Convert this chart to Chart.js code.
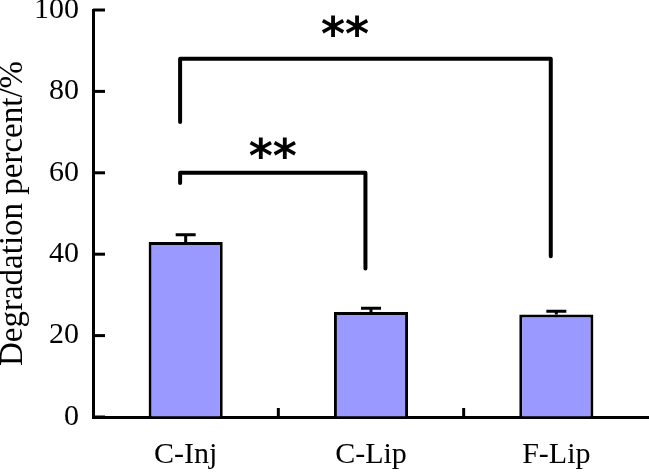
<!DOCTYPE html>
<html>
<head>
<meta charset="utf-8">
<script src="https://cdn.jsdelivr.net/npm/chart.js@4"></script>
<style>
  html, body { margin: 0; padding: 0; background: #fff; }
  #wrap { width: 649px; height: 473px; }
</style>
</head>
<body>
<div id="wrap"><canvas id="chart" width="649" height="473"></canvas></div>
<script>
// values
const categories = ['C-Inj', 'C-Lip', 'F-Lip'];
const degradation = [43.0, 25.8, 25.2];
const errors = [1.8, 0.9, 0.8];
const yTickValues = [0, 20, 40, 60, 80, 100];

// significance brackets (category index, value units)
const bracketFrom = [0, 0];
const bracketTo = [1, 2];
const bracketTop = [60, 88];
const bracketLeftEnd = [57.5, 72.5];
const bracketRightEnd = [36.5, 39.5];
const starText = ['**', '**'];
const starX = [0.47, 0.86];
const starY = [66, 96];

const serif = "'Liberation Serif', 'Times New Roman', serif";

const decorations = {
  id: 'decorations',
  afterDatasetsDraw(chart) {
    const { ctx, chartArea } = chart;
    const x = chart.scales.x;
    const y = chart.scales.y;
    const shift = -0.03;
    ctx.save();
    ctx.strokeStyle = '#000';
    ctx.fillStyle = '#000';

    // error bars (upper only)
    ctx.lineWidth = 3;
    ctx.lineCap = 'butt';
    degradation.forEach((v, i) => {
      const cx = x.getPixelForValue(i);
      const y0 = y.getPixelForValue(v);
      const y1 = y.getPixelForValue(v + errors[i]);
      ctx.beginPath();
      ctx.moveTo(cx, y0);
      ctx.lineTo(cx, y1);
      ctx.moveTo(cx - 10, y1);
      ctx.lineTo(cx + 10, y1);
      ctx.stroke();
    });

    // inward ticks on y axis
    yTickValues.forEach(t => {
      const py = y.getPixelForValue(t);
      ctx.beginPath();
      ctx.moveTo(chartArea.left, py);
      ctx.lineTo(chartArea.left + 12, py);
      ctx.stroke();
    });

    // ticks between categories on x axis
    for (let i = 0; i < categories.length - 1; i++) {
      const px = x.getPixelForValue(i + 0.5);
      ctx.beginPath();
      ctx.moveTo(px, chartArea.bottom);
      ctx.lineTo(px, chartArea.bottom - 9);
      ctx.stroke();
    }

    // brackets
    ctx.lineWidth = 4;
    ctx.lineCap = 'round';
    ctx.lineJoin = 'round';
    bracketFrom.forEach((f, i) => {
      const xl = x.getPixelForValue(f + shift);
      const xr = x.getPixelForValue(bracketTo[i] + shift);
      ctx.beginPath();
      ctx.moveTo(xl, y.getPixelForValue(bracketLeftEnd[i]));
      ctx.lineTo(xl, y.getPixelForValue(bracketTop[i]));
      ctx.lineTo(xr, y.getPixelForValue(bracketTop[i]));
      ctx.lineTo(xr, y.getPixelForValue(bracketRightEnd[i]));
      ctx.stroke();
    });

    // significance stars, centred on their ink
    ctx.font = "bold 46px 'DejaVu Sans'";
    ctx.textAlign = 'left';
    ctx.textBaseline = 'alphabetic';
    starText.forEach((s, i) => {
      const m = ctx.measureText(s);
      const w = m.actualBoundingBoxRight + m.actualBoundingBoxLeft;
      const h = m.actualBoundingBoxAscent + m.actualBoundingBoxDescent;
      const cx = x.getPixelForValue(starX[i]);
      const cy = y.getPixelForValue(starY[i]);
      ctx.fillText(s, cx - w / 2 + m.actualBoundingBoxLeft, cy + h / 2 - m.actualBoundingBoxDescent);
    });
    ctx.restore();
  }
};

new Chart(document.getElementById('chart'), {
  type: 'bar',
  data: {
    labels: categories,
    datasets: [{
      data: degradation,
      backgroundColor: 'rgb(153, 153, 255)',
      borderColor: '#000',
      borderWidth: { top: 3, left: 3, right: 3, bottom: 0 },
      borderSkipped: false,
      barPercentage: 0.4,
      categoryPercentage: 1.0,
    }],
  },
  options: {
    responsive: false,
    animation: false,
    layout: { padding: { top: 10, left: 0, right: 0, bottom: 0 } },
    plugins: {
      legend: { display: false },
      tooltip: { enabled: false },
    },
    scales: {
      x: {
        grid: { display: false, drawTicks: false },
        border: { color: '#000', width: 3 },
        ticks: {
          color: '#000',
          font: { family: serif, size: 30 },
          padding: 20,
          maxRotation: 0,
        },
        afterFit(scale) {
          scale.height = 56;
          scale.paddingLeft = 0;
          scale.paddingRight = 0;
        },
      },
      y: {
        min: 0,
        max: 100,
        grid: { display: true, drawOnChartArea: false, drawTicks: false, color: 'transparent' },
        border: { color: '#000', width: 3 },
        ticks: {
          stepSize: 20,
          color: '#000',
          font: { family: serif, size: 30 },
          padding: 14,
        },
        title: {
          display: true,
          text: 'Degradation percent/%',
          color: '#000',
          font: { family: serif, size: 33, lineHeight: 1 },
          padding: { top: -3, bottom: 0 },
        },
        afterFit(scale) {
          scale.width = 93;
          scale.paddingTop = 0;
          scale.paddingBottom = 0;
        },
      },
    },
  },
  plugins: [decorations],
});
</script>
</body>
</html>
